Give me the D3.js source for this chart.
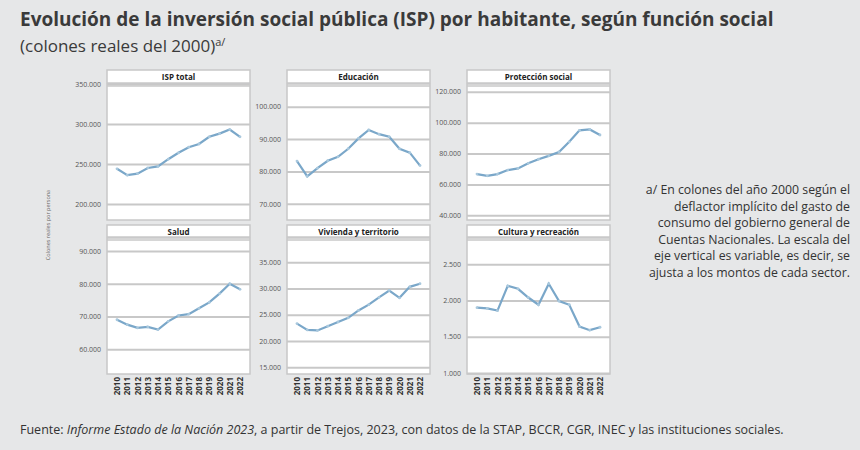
<!DOCTYPE html>
<html><head><meta charset="utf-8">
<script src="https://cdn.jsdelivr.net/npm/d3@7"></script>
<style>
body{margin:0;background:#e6e7e8;font-family:"Open Sans",sans-serif;}
svg{display:block;}
</style></head><body>
<script>
//-------------- Data ---------------
const years = [2010,2011,2012,2013,2014,2015,2016,2017,2018,2019,2020,2021,2022];
const panelTitles = ["ISP total","Educación","Protección social","Salud","Vivienda y territorio","Cultura y recreación"];
const ispTotal   = [244000,236000,238000,245000,247000,256000,264000,271000,275000,284000,288000,293000,284000];
const educacion  = [83200,78500,81000,83300,84500,87000,90200,92800,91500,90700,87000,85800,81800];
const proteccion = [66700,65600,66700,69300,70400,73700,76300,78500,81000,87600,95000,95600,92000];
const salud      = [69000,67500,66500,66800,66000,68500,70300,70700,72500,74300,77000,80000,78300];
const vivienda   = [23300,22100,22000,22800,23600,24400,25800,26900,28300,29600,28200,30300,30900];
const cultura    = [1900,1890,1860,2200,2160,2040,1940,2230,1990,1940,1640,1590,1630];
const seriesList = [ispTotal,educacion,proteccion,salud,vivienda,cultura];
const yTicks = [
  [200000,250000,300000,350000],
  [70000,80000,90000,100000],
  [40000,60000,80000,100000,120000],
  [60000,70000,80000,90000],
  [15000,20000,25000,30000,35000],
  [1000,1500,2000,2500]
];
const yDomains = [[180000,350000],[65000,107000],[37000,125000],[52400,94000],[13700,39600],[986,2860]];

//-------------- Layout ---------------
const width = 860, height = 450;
const colX = [107,287,467], panelW = 143;
const rows = [{head:70, top:84, bottom:220},{head:225, top:238, bottom:374}];
const lineColor = "#7aa7c9";
const fmt = d => d3.format(",")(d).replace(/,/g,".");

const svg = d3.select("body").append("svg").attr("width",width).attr("height",height);

svg.append("text").attr("x",20).attr("y",26).attr("font-size",19).attr("font-weight",700).attr("fill","#3a3a3a")
  .text("Evolución de la inversión social pública (ISP) por habitante, según función social");
const sub = svg.append("text").attr("x",20).attr("y",52).attr("font-size",17).attr("fill","#3a3a3a");
sub.append("tspan").text("(colones reales del 2000)");
sub.append("tspan").attr("font-size",11).attr("dy",-6).text("a/");

//-------------- Panels ---------------
seriesList.forEach((vals,i) => {
  const r = rows[Math.floor(i/3)], x0 = colX[i%3];
  const g = svg.append("g");
  const x = d3.scalePoint().domain(years).range([x0+10, x0+panelW-10]);
  const y = d3.scaleLinear().domain(yDomains[i]).range([r.bottom, r.top]);

  // header strip
  g.append("rect").attr("x",x0).attr("y",r.head).attr("width",panelW).attr("height",r.top-r.head-1)
    .attr("fill","#fff").attr("stroke","#c8c8c8").attr("stroke-width",1.5);
  g.append("text").attr("x",x0+panelW/2).attr("y",r.head+9.5).attr("text-anchor","middle")
    .attr("font-size",8).attr("font-weight",700).attr("fill","#222").text(panelTitles[i]);
  // plot area
  g.append("rect").attr("x",x0).attr("y",r.top).attr("width",panelW).attr("height",r.bottom-r.top)
    .attr("fill","#fff").attr("stroke","#c8c8c8").attr("stroke-width",1.5);
  g.append("line").attr("x1",x0).attr("x2",x0+panelW).attr("y1",r.top+2).attr("y2",r.top+2)
    .attr("stroke","#c8c8c8").attr("stroke-width",1.5);

  const yAxis = g.append("g").attr("transform",`translate(${x0},0)`)
    .call(d3.axisLeft(y).tickValues(yTicks[i]).tickSize(-panelW).tickFormat(fmt));
  yAxis.select(".domain").remove();
  yAxis.selectAll(".tick line").attr("stroke","#c8c8c8").attr("stroke-width",2);
  yAxis.selectAll(".tick text").attr("x",-6).attr("font-size",7).attr("fill","#555")
    .attr("font-family","'Open Sans',sans-serif");

  g.append("path").datum(vals).attr("fill","none").attr("stroke",lineColor).attr("stroke-width",2.2)
    .attr("d",d3.line().x((d,j)=>x(years[j])).y(d=>y(d)));
  g.selectAll("circle").data(vals).enter().append("circle")
    .attr("cx",(d,j)=>x(years[j])).attr("cy",d=>y(d)).attr("r",1.4).attr("fill","#a9c8dd");

  if (i >= 3) {
    g.selectAll(".yr").data(years).enter().append("text")
      .attr("transform",d=>`translate(${x(d)+3},${r.bottom+3}) rotate(-90)`)
      .attr("text-anchor","end").attr("font-size",8).attr("font-weight",700).attr("fill","#333")
      .text(d=>d);
  }
});

svg.append("text").attr("transform","translate(50,225) rotate(-90)").attr("text-anchor","middle")
  .attr("font-size",5.5).attr("fill","#666").text("Colones reales por persona");

//-------------- Note ---------------
const note = ["a/ En colones del año 2000 según el","deflactor implícito del gasto de","consumo del gobierno general de","Cuentas Nacionales. La escala del","eje vertical es variable, es decir, se","ajusta a los montos de cada sector."];
note.forEach((t,k) => {
  svg.append("text").attr("x",850).attr("y",194+k*16.5).attr("text-anchor","end")
    .attr("font-size",12.3).attr("fill","#333").text(t);
});

//-------------- Footer ---------------
const foot = svg.append("text").attr("x",20).attr("y",434).attr("font-size",12.5).attr("fill","#333");
foot.append("tspan").text("Fuente: ");
foot.append("tspan").attr("font-style","italic").text("Informe Estado de la Nación 2023");
foot.append("tspan").text(", a partir de Trejos, 2023, con datos de la STAP, BCCR, CGR, INEC y las instituciones sociales.");
</script>
</body></html>
